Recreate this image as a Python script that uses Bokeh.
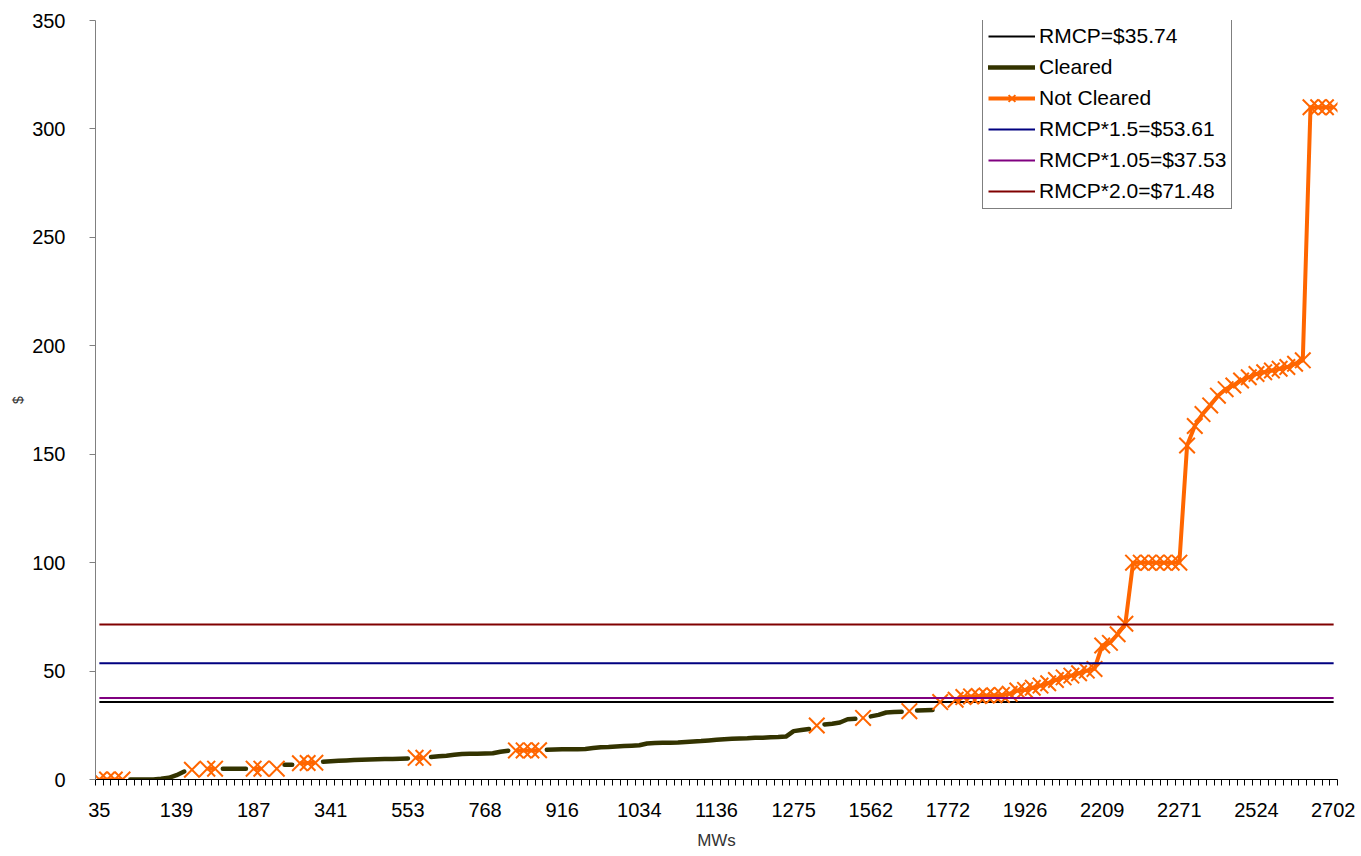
import math
from bokeh.plotting import figure
from bokeh.models import FixedTicker, Legend, LegendItem, Range1d
from bokeh.embed import file_html
from bokeh.resources import INLINE

# ---------------- data ----------------
# category-axis labels (cumulative MWs), one label every 10 categories
tick_labels = ["35", "139", "187", "341", "553", "768", "916", "1034", "1136",
               "1275", "1562", "1772", "1926", "2209", "2271", "2524", "2702"]
label_every = 10

# offer price ($) per category (161 offers, sorted)
price = [
    0, 0, 0, 0, 0, 0, 0, 0, 0.3, 0.8,
    2.0, 3.7, 4.5, 4.7, 5.0, 5.0, 5.0, 5.0, 5.0, 5.0,
    5.0, 5.0, 5.0, 5.0, 6.8, 6.8, 7.5, 7.6, 7.7, 8.2,
    8.4, 8.6, 8.8, 9.0, 9.1, 9.2, 9.3, 9.4, 9.5, 9.6,
    9.7, 10.0, 10.0, 10.4, 10.7, 11.0, 11.4, 11.8, 11.9, 11.9,
    12.0, 12.1, 12.8, 13.3, 13.4, 13.4, 13.4, 13.5, 13.7, 13.8,
    13.9, 14.0, 14.0, 14.1, 14.5, 14.9, 15.0, 15.2, 15.4, 15.6,
    15.8, 16.6, 16.8, 16.9, 17.0, 17.1, 17.3, 17.5, 17.7, 18.0,
    18.3, 18.6, 18.8, 18.9, 19.0, 19.2, 19.3, 19.5, 19.6, 19.8,
    22.3, 22.8, 23.3, 24.9, 25.4, 25.7, 26.3, 27.8, 28.0, 28.4,
    29.1, 29.8, 30.9, 31.1, 31.2, 31.5, 31.8, 31.9, 32.0, 35.7,
    36.2, 36.8, 38.0, 38.3, 38.5, 38.7, 38.8, 39.0, 39.5, 41.0,
    41.3, 42.3, 43.3, 44.4, 45.9, 47.1, 47.9, 49.0, 50.2, 51.0,
    61.8, 63.0, 67.0, 71.8, 100, 100, 100, 100, 100, 100,
    100, 154, 163, 168.5, 172.5, 177, 180, 181.7, 184, 185.5,
    187, 187.8, 188.6, 189.4, 190.2, 191.7, 193.3, 310, 310, 310,
    310,
]

# C = cleared, N = not cleared (one letter per category)
status = ("NNNN" "CCCCCCCC" "N" "C" "NN" "CCCC" "NN" "C" "N" "CC" "NNN"
          "CCCCCCCCCCCC" "NN" "CCCCCCCCCCC" "NNNN"
          "CCCCCCCCCCCCCCCCCCCCCCCCCCCCCCCCCCC" "N" "CCCCC" "N" "CCCCC" "N"
          "CCC" "N" "C"
          "NNNNNNNNNNNNNNNNNNNNNNNNNNNNNNNNNNNNNNNNNNNNNNNNN" "N")

# reference price lines
ref_names = ["RMCP=$35.74", "RMCP*1.5=$53.61", "RMCP*1.05=$37.53", "RMCP*2.0=$71.48"]
ref_values = [35.74, 53.61, 37.53, 71.48]
ref_colors = ["#000000", "#000080", "#800080", "#800000"]

series_names = ["Cleared", "Not Cleared"]

assert len(price) == len(status)
n = len(price)
x = list(range(n))
cleared = [v if s == "C" else float("nan") for v, s in zip(price, status)]
not_cleared = [v if s == "N" else float("nan") for v, s in zip(price, status)]

FONT = "Liberation Sans"

p = figure(width=1355, height=856, output_backend="svg", toolbar_location=None,
           x_range=Range1d(-0.5, n - 0.5), y_range=Range1d(0, 350),
           min_border_left=95, min_border_right=18, min_border_top=20,
           min_border_bottom=77)
p.outline_line_color = None
p.xgrid.visible = False
p.ygrid.visible = False
p.background_fill_color = "white"

def ref_line(i):
    return p.line(x, [ref_values[i]] * n, line_color=ref_colors[i], line_width=2)

r_rmcp = ref_line(0)
r_clr = p.line(x, cleared, line_color="#333300", line_width=4.5,
               line_cap="round", line_join="round")
r_nc_line = p.line(x, not_cleared, line_color="#FF6600", line_width=4,
                   line_join="round")
r_nc_mark = p.scatter(x, not_cleared, marker="x", size=22, line_color="#FF6600",
                      line_width=2)
r_15 = ref_line(1)
r_105 = ref_line(2)
r_20 = ref_line(3)

legend = Legend(items=[
    LegendItem(label=ref_names[0], renderers=[r_rmcp]),
    LegendItem(label=series_names[0], renderers=[r_clr]),
    LegendItem(label=series_names[1], renderers=[r_nc_line, r_nc_mark]),
    LegendItem(label=ref_names[1], renderers=[r_15]),
    LegendItem(label=ref_names[2], renderers=[r_105]),
    LegendItem(label=ref_names[3], renderers=[r_20]),
], location=(887, 570))
legend.border_line_color = "black"
legend.border_line_width = 1
legend.background_fill_color = "white"
legend.background_fill_alpha = 1
legend.label_text_font = FONT
legend.label_text_font_size = "21px"
legend.label_text_color = "black"
legend.glyph_width = 47
legend.glyph_height = 24
legend.label_height = 24
legend.spacing = 7
legend.padding = 5
legend.margin = 0
legend.label_standoff = 4
p.add_layout(legend, "center")

# x axis (category axis)
xa = p.xaxis[0]
xa.ticker = FixedTicker(ticks=list(range(0, n, label_every)),
                        minor_ticks=[i - 0.5 for i in range(n + 1)])
xa.major_label_overrides = {i * label_every: t for i, t in enumerate(tick_labels)}
xa.major_tick_line_color = None
xa.major_tick_out = 6
xa.major_tick_in = 0
xa.minor_tick_line_color = "black"
xa.minor_tick_out = 6
xa.minor_tick_in = 0
xa.axis_line_color = "black"
xa.major_label_text_font = FONT
xa.major_label_text_font_size = "20px"
xa.major_label_text_color = "black"
xa.major_label_standoff = 17
xa.axis_label = "MWs"
xa.axis_label_text_font = FONT
xa.axis_label_text_font_size = "17px"
xa.axis_label_text_font_style = "normal"
xa.axis_label_text_color = "#333333"
xa.axis_label_standoff = 11

ya = p.yaxis[0]
ya.ticker = FixedTicker(ticks=list(range(0, 351, 50)))
ya.minor_tick_line_color = None
ya.major_tick_out = 6
ya.major_tick_in = 0
ya.major_tick_line_color = "#808080"
ya.axis_line_color = "#808080"
ya.major_label_text_font = FONT
ya.major_label_text_font_size = "20px"
ya.major_label_text_color = "black"
ya.major_label_standoff = 24
ya.axis_label = "$"
ya.axis_label_text_font = FONT
ya.axis_label_text_font_size = "14px"
ya.axis_label_text_font_style = "normal"
ya.axis_label_text_color = "#333333"
ya.axis_label_standoff = 3

open("out.html", "w").write(file_html(p, INLINE))
